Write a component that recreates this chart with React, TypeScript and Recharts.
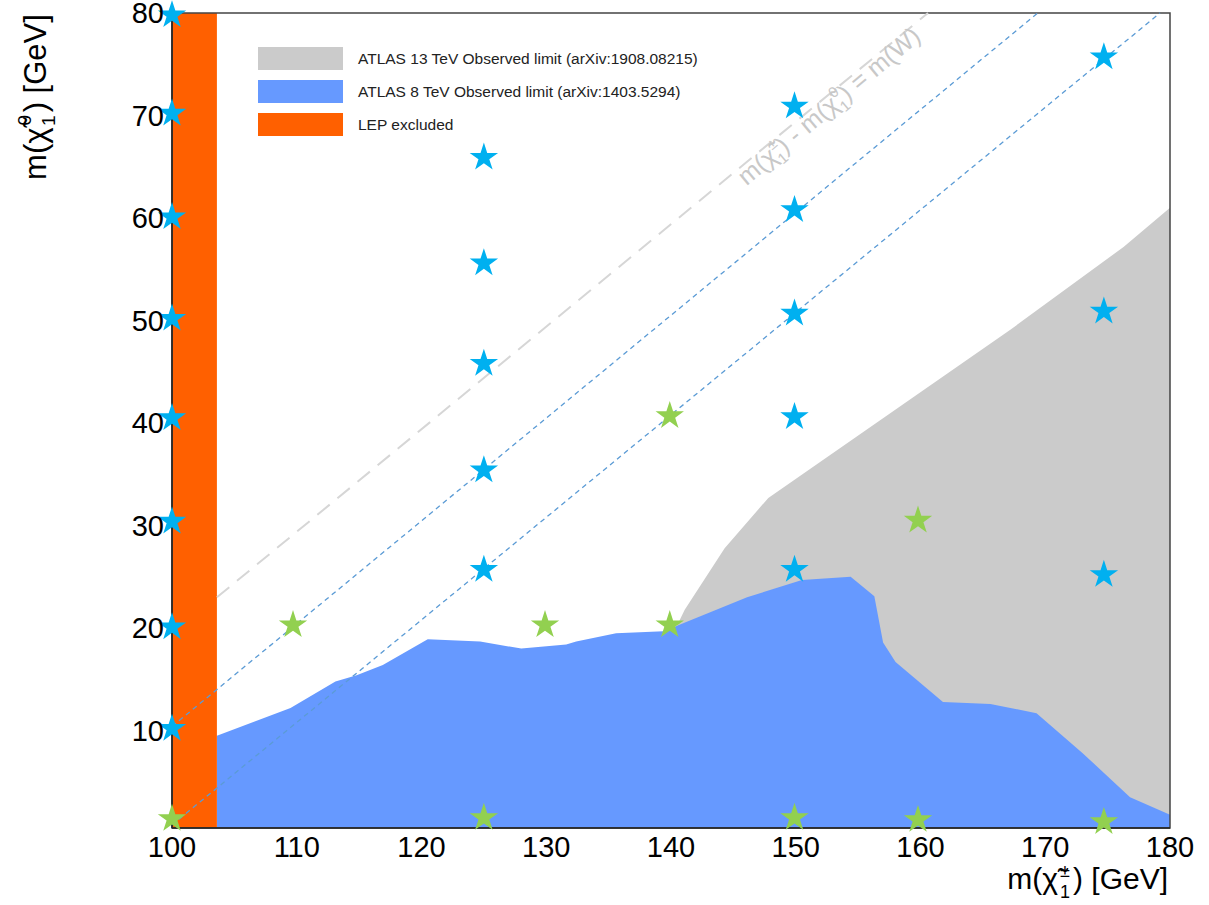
import React from 'react';
import {
  ComposedChart, Area, Scatter, XAxis, YAxis, ZAxis, ReferenceArea,
  ReferenceLine, ReferenceDot, Legend,
} from 'recharts';

// ---- data ----
const xTicks = [100, 110, 120, 130, 140, 150, 160, 170, 180];
const yTicks = [10, 20, 30, 40, 50, 60, 70, 80];

// ATLAS 13 TeV observed limit (upper edge of grey region)
const atlas13 = [
  { x: 140.3, y: 19.8 }, { x: 141.1, y: 21.8 }, { x: 144.3, y: 27.8 },
  { x: 147.8, y: 32.7 }, { x: 167.2, y: 49.1 }, { x: 176.3, y: 57.2 },
  { x: 180, y: 61.0 },
];

// ATLAS 8 TeV observed limit (upper edge of blue region)
const atlas8 = [
  { x: 103.6, y: 9.5 }, { x: 109.5, y: 12.2 }, { x: 113.1, y: 14.8 },
  { x: 114.8, y: 15.4 }, { x: 116.9, y: 16.4 }, { x: 120.5, y: 18.9 },
  { x: 124.7, y: 18.7 }, { x: 128.0, y: 18.0 }, { x: 131.6, y: 18.4 },
  { x: 132.4, y: 18.7 }, { x: 135.6, y: 19.5 }, { x: 139.4, y: 19.7 },
  { x: 146.1, y: 23.0 }, { x: 150.5, y: 24.7 }, { x: 154.4, y: 25.0 },
  { x: 156.3, y: 23.1 }, { x: 157.0, y: 18.6 }, { x: 158.0, y: 16.7 },
  { x: 161.8, y: 12.8 }, { x: 165.6, y: 12.6 }, { x: 169.3, y: 11.7 },
  { x: 173.0, y: 7.8 }, { x: 176.8, y: 3.5 }, { x: 180, y: 1.8 },
];

const lepLimit = { x1: 100, x2: 103.6 };

const blueStars = [
  { x: 100, y: 79.8 }, { x: 100, y: 70.2 }, { x: 100, y: 60.1 }, { x: 100, y: 50.2 },
  { x: 100, y: 40.5 }, { x: 100, y: 30.4 }, { x: 100, y: 20.1 }, { x: 100, y: 10.2 },
  { x: 125, y: 65.9 }, { x: 125, y: 55.6 }, { x: 125, y: 45.8 }, { x: 125, y: 35.4 },
  { x: 125, y: 25.7 },
  { x: 149.9, y: 70.9 }, { x: 149.9, y: 60.8 }, { x: 149.9, y: 50.7 }, { x: 149.9, y: 40.6 },
  { x: 149.9, y: 25.7 },
  { x: 174.7, y: 75.7 }, { x: 174.7, y: 50.9 }, { x: 174.7, y: 25.2 },
];

const greenStars = [
  { x: 100, y: 1.4 }, { x: 109.7, y: 20.3 }, { x: 125, y: 1.5 }, { x: 129.9, y: 20.3 },
  { x: 139.9, y: 40.7 }, { x: 139.9, y: 20.3 }, { x: 149.9, y: 1.5 },
  { x: 159.8, y: 30.5 }, { x: 159.8, y: 1.3 }, { x: 174.7, y: 1.1 },
];

// diagonal guide lines
const diagLow = [{ x: 100, y: 0.8 }, { x: 179.2, y: 80 }];
const diagHigh = [{ x: 100, y: 10.4 }, { x: 169.4, y: 80 }];
const diagW = [{ x: 103.6, y: 23.0 }, { x: 160.6, y: 80 }];
const diagWLabel = { x: 153.1, y: 70.3 };

const legendItems = [
  { label: 'ATLAS 13 TeV Observed limit (arXiv:1908.08215)', color: '#CBCBCB' },
  { label: 'ATLAS 8 TeV Observed limit (arXiv:1403.5294)', color: '#6699FF' },
  { label: 'LEP excluded', color: '#FF6000' },
];

const FONT = 'Arial, "Liberation Sans", sans-serif';

const renderLegend = () => (
  <div style={{ fontFamily: FONT }}>
    {legendItems.map(item => (
      <div key={item.label} style={{ display: 'flex', alignItems: 'center', height: 33 }}>
        <span style={{ width: 85, height: 23, background: item.color, display: 'inline-block' }} />
        <span style={{ marginLeft: 15, fontSize: 15.5, color: '#222' }}>{item.label}</span>
      </div>
    ))}
  </div>
);

const YLabel = (props: any) => {
  const vb = props.viewBox || {};
  const x = vb.x - 46;
  const y = vb.y + 84;
  return (
    <text x={x} y={y} transform={`rotate(-90 ${x} ${y})`} textAnchor="middle"
      fontSize={31} fill="#000" fontFamily={FONT}>
      <tspan>m(χ̃</tspan>
      <tspan fontSize={19} dx={2} dy={-15}>0</tspan>
      <tspan fontSize={19} dx={-11} dy={24}>1</tspan>
      <tspan dx={3} dy={-9}>) [GeV]</tspan>
    </text>
  );
};

const XLabel = (props: any) => {
  const vb = props.viewBox || {};
  const x = vb.x + vb.width - 2;
  const y = vb.y + 61;
  return (
    <text x={x} y={y} textAnchor="end" fontSize={30} fill="#000" fontFamily={FONT}>
      <tspan>m(χ̃</tspan>
      <tspan fontSize={18} dx={2} dy={-12}>±</tspan>
      <tspan fontSize={18} dx={-10} dy={21}>1</tspan>
      <tspan dx={3} dy={-9}>) [GeV]</tspan>
    </text>
  );
};

const WLabel = (props: any) => {
  const { cx, cy } = props;
  return (
    <text x={cx} y={cy} transform={`rotate(-40 ${cx} ${cy})`} textAnchor="middle"
      fontSize={25} fill="#C8C8C8" fontFamily={FONT}>
      <tspan>m(χ̃</tspan>
      <tspan fontSize={15} dy={-11}>±</tspan>
      <tspan fontSize={15} dx={-9} dy={18}>1</tspan>
      <tspan dy={-7}>) - m(χ̃</tspan>
      <tspan fontSize={15} dy={-11}>0</tspan>
      <tspan fontSize={15} dx={-8} dy={18}>1</tspan>
      <tspan dy={-7}>) = m(W)</tspan>
    </text>
  );
};

export default function App() {
  return (
    <div style={{ fontFamily: FONT, position: 'absolute', left: 0, top: 0 }}>
      <ComposedChart width={1209} height={905}
        margin={{ top: 13, right: 39, bottom: 17, left: 92 }}>
        <XAxis type="number" dataKey="x" domain={[100, 180]} ticks={xTicks} interval={0}
          tick={{ fill: '#000', fontSize: 29 }} tickLine={false}
          axisLine={{ stroke: '#222', strokeWidth: 1.5 }} height={60}
          label={<XLabel />} />
        <YAxis type="number" dataKey="y" domain={[0.5, 80]} ticks={yTicks} interval={0}
          tick={{ fill: '#000', fontSize: 29 }} tickLine={false}
          axisLine={{ stroke: '#222', strokeWidth: 1.5 }} width={80}
          label={<YLabel />} />
        <ZAxis range={[250, 250]} />

        <Legend layout="vertical" align="center" verticalAlign="middle"
          content={renderLegend}
          wrapperStyle={{ left: 258, top: 42, width: 'auto', height: 'auto' }} />

        {/* 13 TeV exclusion */}
        <Area data={atlas13} dataKey="y" type="linear" stroke="none" fill="#CBCBCB"
          fillOpacity={1} isAnimationActive={false} legendType="none" />
        {/* 8 TeV exclusion */}
        <Area data={atlas8} dataKey="y" type="linear" stroke="none" fill="#6699FF"
          fillOpacity={1} isAnimationActive={false} legendType="none" />

        <ReferenceLine segment={diagW} stroke="#D6D6D6" strokeWidth={2}
          strokeDasharray="16 10" />

        {/* LEP */}
        <ReferenceArea x1={lepLimit.x1} x2={lepLimit.x2} y1={0.5} y2={80}
          fill="#FF6000" fillOpacity={1} stroke="none" />

        <ReferenceLine segment={diagLow} stroke="#5B9BD5" strokeWidth={1.3}
          strokeDasharray="5 4" />
        <ReferenceLine segment={diagHigh} stroke="#5B9BD5" strokeWidth={1.3}
          strokeDasharray="5 4" />

        <ReferenceDot x={diagWLabel.x} y={diagWLabel.y} r={0} shape={<WLabel />} />

        <Scatter data={blueStars} fill="#00B0F0" shape="star"
          isAnimationActive={false} legendType="none" />
        <Scatter data={greenStars} fill="#92D050" shape="star"
          isAnimationActive={false} legendType="none" />

        {/* frame */}
        <ReferenceArea x1={100} x2={180} y1={0.5} y2={80} fill="none"
          stroke="#444" strokeWidth={1.5} ifOverflow="visible" />
      </ComposedChart>
    </div>
  );
}
